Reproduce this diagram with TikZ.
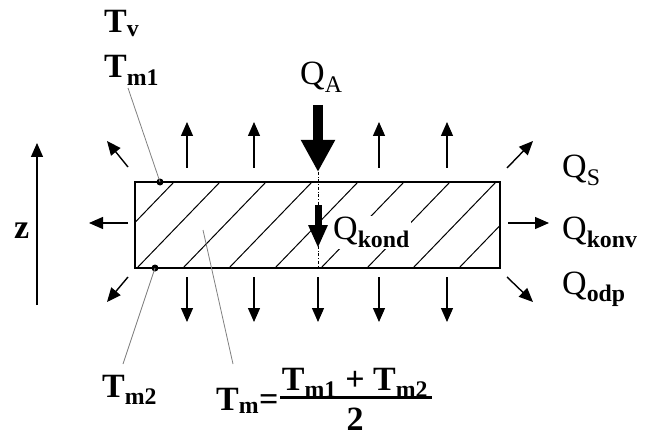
\documentclass[tikz,border=0pt]{standalone}
\usepackage{fontspec}
\setmainfont{Liberation Serif}
\usetikzlibrary{arrows.meta,positioning,calc}

\begin{document}
\begin{tikzpicture}[x=1pt,y=-1pt,
  flux/.style={line width=1.4pt,-{Triangle[length=14pt,width=12pt]}},
  lead/.style={gray,line width=0.8pt},
  lab/.style={inner sep=0pt,anchor=base west,font=\fontsize{34}{40}\selectfont}]
\useasboundingbox (0,0) rectangle (649,436);
\coordinate (ul) at (135,182);\coordinate (lr) at (500,268);
% hatched plate
\begin{scope}
\clip (ul) rectangle (lr);
\foreach \x in {45,91,...,505} \draw[line width=1pt] (\x,268) -- ++(83,-86);
\end{scope}
\node[lab,fill=white,inner sep=1pt] (qkond) at (332,240) {Q\textsubscript{\bfseries kond}};
\draw[line width=2.5pt] (ul) rectangle (lr);
\draw[dash dot,line width=0.8pt] (318,172) -- (318,268);
% heat fluxes
\draw[line width=10pt,-{Triangle[length=32pt,width=32pt]}] (318,105) -- (318,172);
\draw[line width=7pt,-{Triangle[length=23pt,width=18pt]}] (318,205) -- (318,248);
\foreach \x in {187,254,379,447} \draw[flux] (\x,168) -- (\x,122);
\foreach \x in {187,254,318,379,447} \draw[flux] (\x,277) -- (\x,322);
\draw[flux] (128,167) -- (107,141);
\draw[flux] (507,168) -- (533,141);
\draw[flux] (128,277) -- (107,302);
\draw[flux] (507,277) -- (533,302);
\draw[flux] (128,223) -- (89,223);
\draw[flux] (508,223) -- (549,223);
\draw[flux] (37,305) -- (37,143);
% temperatures
\coordinate (d1) at (160,182);\coordinate (d2) at (155,268);\coordinate (dm) at (203,230);
\fill (d1) circle (3.5pt);\fill (d2) circle (3.5pt);
\node[lab] (tv) at (104,33) {\bfseries T\textsubscript{v}};
\node[lab] (tm1) at (104,78) {\bfseries T\textsubscript{m1}};
\node[lab] (tm2) at (102,397) {\bfseries T\textsubscript{m2}};
\node[lab] (tm) at (216,410) {\bfseries T\textsubscript{m}=};
\node[lab,anchor=base] (num) at (355,390) {\bfseries T\textsubscript{m1} + T\textsubscript{m2}};
\node[lab,anchor=base] (den) at (355,430) {\bfseries 2};
\draw[line width=3pt] (280,397) -- (432,397);
\draw[lead] (128,88) -- (d1);
\draw[lead] (d2) -- (123,364);
\draw[lead] (dm) -- (233,364);
% labels
\node[lab] (zlab) at (14,238) {\bfseries z};
\node[lab] (qa) at (300,85) {Q\textsubscript{A}};
\node[lab] (qs) at (562,178) {Q\textsubscript{S}};
\node[lab] (qkonv) at (562,240) {Q\textsubscript{\bfseries konv}};
\node[lab] (qodp) at (562,294) {Q\textsubscript{\bfseries odp}};
\end{tikzpicture}
\end{document}
